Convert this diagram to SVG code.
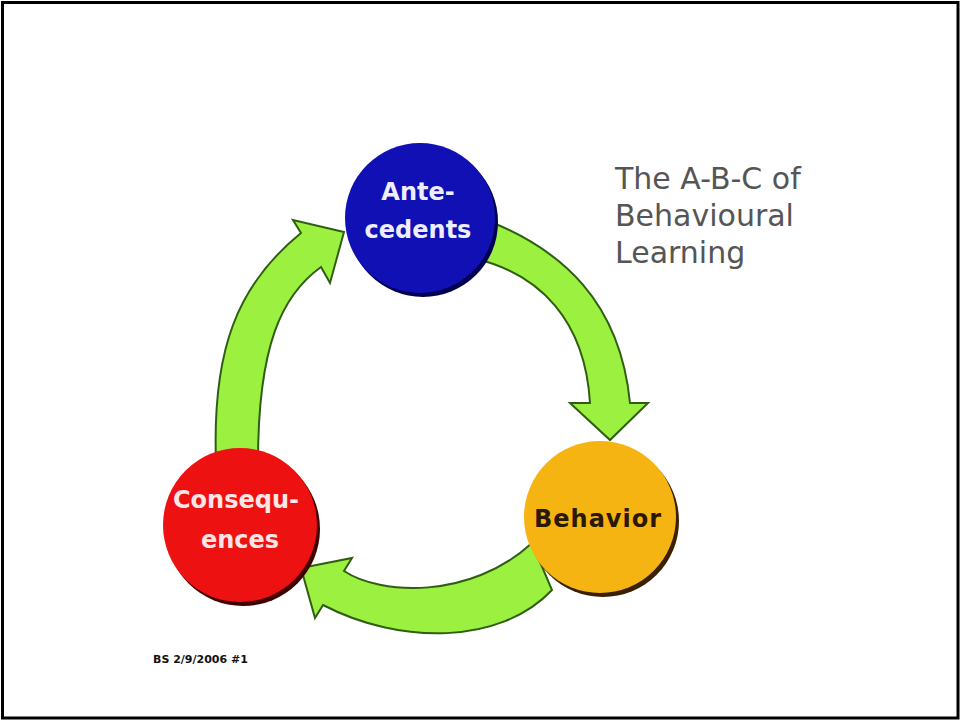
<svg xmlns="http://www.w3.org/2000/svg" width="960" height="720" viewBox="0 0 960 720">
<style>
.arrow{fill:#9cf040;stroke:#2f5e12;stroke-width:2;stroke-linejoin:miter}
.lbl{font-family:"DejaVu Sans","Verdana",sans-serif;font-weight:bold;font-size:24px;text-anchor:middle}
.title{font-family:"DejaVu Sans","Verdana",sans-serif;font-size:30px;fill:#555555}
</style>
<rect x="0" y="0" width="960" height="720" fill="#ffffff"/>
<rect x="2.5" y="2.5" width="955.5" height="715.5" fill="none" stroke="#000000" stroke-width="3"/>
<g id="connectors">
  <path id="arrow-a-b" class="arrow" d="M 491,222 C 560,250 620,300 630,403 L 648,403 L 610,440 L 570,403 L 590,403 C 585,320 540,275 477,259 Z"/>
  <path id="arrow-b-c" class="arrow" d="M 552,590 C 500,645 400,645 323,605 L 315,618 L 301,568 L 352,558 L 344,571 C 380,595 470,600 532,543 Z"/>
  <path id="arrow-c-a" class="arrow" d="M 216,462 C 212,350 237,285 301,233 L 293,220 L 344,232 L 330,283 L 321,267 C 282,295 258,345 258,462 Z"/>
</g>
<g id="node-antecedents">
  <circle cx="423" cy="222" r="75" fill="#000050"/>
  <circle cx="420" cy="218" r="75" fill="#1010b4"/>
  <text class="lbl" x="418" y="200" fill="#eeeeff">Ante-</text>
  <text class="lbl" x="418" y="238" fill="#eeeeff">cedents</text>
</g>
<g id="node-behavior">
  <circle cx="603" cy="521" r="76" fill="#3a2000"/>
  <circle cx="600" cy="517" r="76" fill="#f6b412"/>
  <text class="lbl" x="598" y="527" fill="#2a1800" letter-spacing="1">Behavior</text>
</g>
<g id="node-consequences">
  <circle cx="243" cy="529" r="77" fill="#400000"/>
  <circle cx="240" cy="525" r="77" fill="#ee1111"/>
  <text class="lbl" x="236" y="508" fill="#ffe6e6">Consequ-</text>
  <text class="lbl" x="240" y="548" fill="#ffe6e6">ences</text>
</g>
<g id="title">
  <text class="title" x="615" y="189">The A-B-C of</text>
  <text class="title" x="615" y="226">Behavioural</text>
  <text class="title" x="615" y="263">Learning</text>
</g>
<text x="153" y="663" font-family="DejaVu Sans, sans-serif" font-weight="bold" font-size="11" fill="#111111">BS 2/9/2006 #1</text>
</svg>
